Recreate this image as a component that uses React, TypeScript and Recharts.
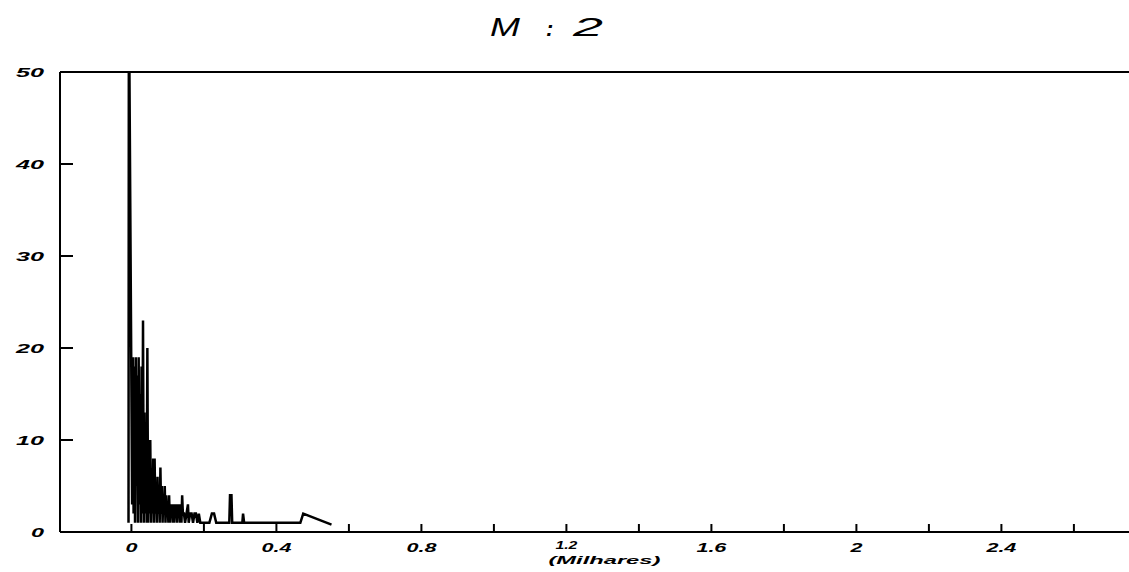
import React from "react";
import { LineChart, Line, XAxis, YAxis, ReferenceLine } from "recharts";

// x: value in thousands (Milhares); y: frequency count
const BIN_X = [
  -0.008, -0.007, 0.002, 0.004, 0.006, 0.008, 0.01, 0.012, 0.014, 0.016, 0.018,
  0.02, 0.022, 0.024, 0.026, 0.028, 0.03, 0.032, 0.034, 0.036, 0.038, 0.04,
  0.042, 0.044, 0.046, 0.048, 0.05, 0.052, 0.054, 0.056, 0.058, 0.06, 0.062,
  0.064, 0.066, 0.068, 0.07, 0.072, 0.074, 0.076, 0.078, 0.08, 0.082, 0.084,
  0.086, 0.088, 0.09, 0.092, 0.094, 0.096, 0.098, 0.1, 0.102, 0.104, 0.106,
  0.108, 0.11, 0.112, 0.114, 0.116, 0.118, 0.12, 0.122, 0.124, 0.126, 0.128,
  0.13, 0.132, 0.134, 0.136, 0.138, 0.14, 0.142, 0.145, 0.148, 0.152, 0.156,
  0.158, 0.162, 0.166, 0.17, 0.174, 0.178, 0.182, 0.186, 0.19, 0.215, 0.222,
  0.228, 0.234, 0.27, 0.272, 0.276, 0.278, 0.306, 0.308, 0.311, 0.466, 0.474,
  0.552,
];
const COUNT = [
  1, 60, 3, 19, 2, 18, 1, 19, 5, 17, 1,
  19, 3, 15, 1, 18, 2, 23, 1, 13, 2, 11,
  1, 20, 1, 7, 2, 10, 1, 6, 2, 8, 1,
  8, 2, 5, 1, 6, 2, 5, 1, 7, 2, 5,
  1, 4, 2, 5, 1, 4, 2, 3, 1, 4, 1,
  3, 2, 3, 1, 3, 1, 3, 2, 3, 1, 3,
  2, 3, 1, 3, 1, 4, 2, 2, 1, 2, 3,
  1, 2, 2, 1, 2, 2, 1, 2, 1, 1, 2,
  2, 1, 1, 4, 4, 1, 1, 2, 1, 1, 2,
  0.8,
];

const X_TICKS = [0, 0.2, 0.4, 0.6, 0.8, 1.0, 1.2, 1.4, 1.6, 1.8, 2.0, 2.2, 2.4, 2.6];
const X_TICK_LABELS = ["0", "", "0.4", "", "0.8", "", "1.2", "", "1.6", "", "2", "", "2.4", ""];
const Y_TICKS = [0, 10, 20, 30, 40, 50];
const Y_TICK_LABELS = ["0", "10", "20", "30", "40", "50"];
const TITLE = ["M", ":", "2"];
const X_AXIS_TITLE = "(Milhares)";

const data = BIN_X.map((x, i) => ({ x, y: COUNT[i] }));

const FONT = "'Liberation Sans', Arial, sans-serif";

function XTick(props: any) {
  const { x, y, index } = props;
  const label = X_TICK_LABELS[index] || "";
  const isTitleTick = index === 6;
  return (
    <g>
      <line x1={x} x2={x} y1={y} y2={y - 8} stroke="#000" strokeWidth={2} />
      {label && (
        <text
          x={x}
          y={isTitleTick ? y + 17 : y + 20}
          textAnchor="middle"
          fontFamily={FONT}
          fontWeight="bold"
          fontStyle="italic"
          fontSize={isTitleTick ? 10 : 12}
          fill="#000"
          textLength={label.length === 1 ? 12 : isTitleTick ? 22 : 30}
          lengthAdjust="spacingAndGlyphs"
        >
          {label}
        </text>
      )}
      {isTitleTick && (
        <text
          x={x + 38}
          y={y + 32}
          textAnchor="middle"
          fontFamily={FONT}
          fontWeight="bold"
          fontStyle="italic"
          fontSize={11}
          fill="#000"
          textLength={112}
          lengthAdjust="spacingAndGlyphs"
        >
          {X_AXIS_TITLE}
        </text>
      )}
    </g>
  );
}

function YTick(props: any) {
  const { x, y, index } = props;
  const label = Y_TICK_LABELS[index] || "";
  const inner = index > 0 && index < Y_TICKS.length - 1;
  return (
    <g>
      {inner && <line x1={x} x2={x + 13} y1={y} y2={y} stroke="#000" strokeWidth={2} />}
      <text
        x={44}
        y={y + 5}
        textAnchor="end"
        fontFamily={FONT}
        fontWeight="bold"
        fontStyle="italic"
        fontSize={13}
        fill="#000"
        textLength={label.length === 1 ? 13 : 28}
        lengthAdjust="spacingAndGlyphs"
      >
        {label}
      </text>
    </g>
  );
}

export default function App() {
  return (
    <div style={{ position: "absolute", left: 0, top: 0, width: 1129, height: 572, background: "#fff" }}>
      <svg
        width={1129}
        height={60}
        style={{ position: "absolute", left: 0, top: 0, pointerEvents: "none" }}
      >
        <text x={490} y={36} fontFamily={FONT} fontStyle="italic" fontSize={26} fill="#000" textLength={30} lengthAdjust="spacingAndGlyphs">
          {TITLE[0]}
        </text>
        <text x={546} y={36} fontFamily={FONT} fontStyle="italic" fontWeight="bold" fontSize={22} fill="#000">
          {TITLE[1]}
        </text>
        <text x={573} y={36} fontFamily={FONT} fontStyle="italic" fontSize={26} fill="#000" textLength={30} lengthAdjust="spacingAndGlyphs">
          {TITLE[2]}
        </text>
      </svg>
      <LineChart
        width={1129}
        height={572}
        data={data}
        margin={{ top: 72, right: 0, bottom: 0, left: 0 }}
      >
        <XAxis
          type="number"
          dataKey="x"
          domain={[-0.197, 2.752]}
          ticks={X_TICKS}
          interval={0}
          allowDataOverflow
          height={40}
          tickSize={0}
          tickMargin={0}
          tickLine={false}
          axisLine={{ stroke: "#000", strokeWidth: 2 }}
          tick={<XTick />}
        />
        <YAxis
          type="number"
          domain={[0, 50]}
          ticks={Y_TICKS}
          interval={0}
          allowDataOverflow
          width={60}
          tickSize={0}
          tickMargin={0}
          tickLine={false}
          axisLine={{ stroke: "#000", strokeWidth: 2 }}
          tick={<YTick />}
        />
        <ReferenceLine y={50} stroke="#000" strokeWidth={2} ifOverflow="extendDomain" />
        <Line
          type="linear"
          dataKey="y"
          stroke="#000"
          strokeWidth={2.5}
          dot={false}
          isAnimationActive={false}
        />
      </LineChart>
    </div>
  );
}
